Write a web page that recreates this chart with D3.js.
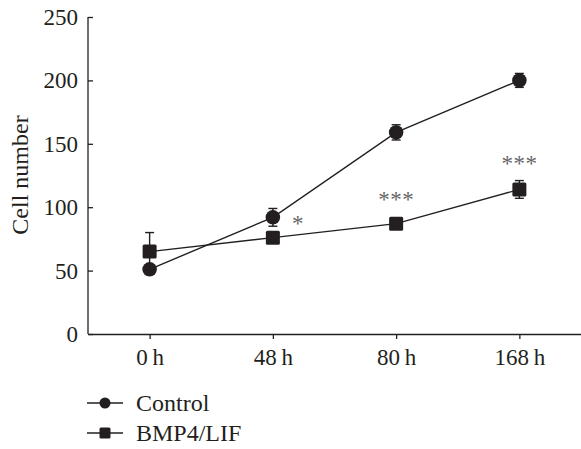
<!DOCTYPE html>
<html>
<head>
<meta charset="utf-8">
<script src="https://cdn.jsdelivr.net/npm/d3@7"></script>
<style>
  body { margin: 0; background: #fff; }
  text { font-family: "Liberation Serif", "Times New Roman", serif; fill: #231f20; }
</style>
</head>
<body>
<script>
"use strict";

// data
var categories = ["0\u2009h", "48\u2009h", "80\u2009h", "168\u2009h"];
var controlMean = [51, 92, 159, 200];
var controlErr = [3, 7, 6, 5.5];
var bmpMean = [65, 76, 87, 114];
var bmpErr = [15, 4, 3, 7];
var yTicks = [0, 50, 100, 150, 200, 250];
var sigLabels = ["", "*", "***", "***"];
var sigValues = [null, 91, 110, 138];

var width = 581, height = 449;
var ink = "#231f20";

var svg = d3.select("body").append("svg")
    .attr("width", width)
    .attr("height", height);

var x = d3.scalePoint().domain(categories).range([88, 581]).padding(0.5);
var y = d3.scaleLinear().domain([0, 250]).range([334, 17]);

// axes
var yAxis = svg.append("g")
    .attr("transform", "translate(88,0)")
    .call(d3.axisRight(y).tickValues(yTicks).tickSize(5).tickFormat(""));
yAxis.selectAll("path, line").attr("stroke", ink).attr("stroke-width", 1.3);
yAxis.select(".domain").attr("d", "M0," + y(250) + "V" + y(0));

svg.append("g").selectAll("text")
    .data(yTicks)
    .enter().append("text")
    .attr("x", 78)
    .attr("y", d => y(d))
    .attr("dy", "0.35em")
    .attr("text-anchor", "end")
    .style("font-size", "23px")
    .text(d => d);

var xAxis = svg.append("g")
    .attr("transform", "translate(0,334)")
    .call(d3.axisBottom(x).tickSize(5).tickSizeOuter(0));
xAxis.selectAll("path, line").attr("stroke", ink).attr("stroke-width", 1.3);
xAxis.selectAll("text")
    .attr("y", 0).attr("dy", 31)
    .style("font-size", "23px")
    .attr("fill", ink)
    .style("font-family", "Liberation Serif, serif");

svg.append("text")
    .attr("transform", "translate(28,175) rotate(-90)")
    .attr("text-anchor", "middle")
    .style("font-size", "24px")
    .text("Cell number");

// series
var series = [
  {name: "Control", mean: controlMean, err: controlErr, shape: "circle"},
  {name: "BMP4/LIF", mean: bmpMean, err: bmpErr, shape: "square"}
];

var line = d3.line()
    .x((d, i) => x(categories[i]))
    .y(d => y(d));

series.forEach(function(s) {
  svg.append("path")
      .attr("d", line(s.mean))
      .attr("fill", "none")
      .attr("stroke", ink)
      .attr("stroke-width", 1.4);
});

series.forEach(function(s) {
  var g = svg.append("g").attr("stroke", ink).attr("stroke-width", 1.4);
  s.mean.forEach(function(m, i) {
    var cx = x(categories[i]);
    var lo = y(m - s.err[i]), hi = y(m + s.err[i]);
    g.append("line").attr("x1", cx).attr("x2", cx).attr("y1", lo).attr("y2", hi);
    g.append("line").attr("x1", cx - 4.5).attr("x2", cx + 4.5).attr("y1", hi).attr("y2", hi);
    g.append("line").attr("x1", cx - 4.5).attr("x2", cx + 4.5).attr("y1", lo).attr("y2", lo);
  });
});

function drawMarker(g, shape, cx, cy, size) {
  if (shape === "circle") {
    g.append("circle").attr("cx", cx).attr("cy", cy).attr("r", size / 2).attr("fill", ink);
  } else {
    g.append("rect").attr("x", cx - size / 2).attr("y", cy - size / 2)
        .attr("width", size).attr("height", size).attr("rx", 1.5).attr("fill", ink);
  }
}

// BMP markers first, control on top
[series[1], series[0]].forEach(function(s) {
  var g = svg.append("g");
  s.mean.forEach(function(m, i) {
    drawMarker(g, s.shape, x(categories[i]), y(m), s.shape === "circle" ? 14.5 : 14);
  });
});

// significance
svg.append("g").selectAll("text")
    .data(sigLabels.map((l, i) => ({l: l, v: sigValues[i], c: categories[i]})).filter(d => d.l))
    .enter().append("text")
    .attr("x", d => x(d.c) + (d.l.length === 1 ? 25 : 0))
    .attr("y", d => y(d.v) + 12)
    .attr("text-anchor", "middle")
    .style("font-size", "23px")
    .style("letter-spacing", "0.5px")
    .style("fill", "#666")
    .text(d => d.l);

// legend
var legend = svg.append("g");
series.forEach(function(s, i) {
  var ly = 403 + i * 30;
  legend.append("line")
      .attr("x1", 87).attr("x2", 123).attr("y1", ly).attr("y2", ly)
      .attr("stroke", ink).attr("stroke-width", 1.4);
  drawMarker(legend, s.shape, 105, ly, 11);
  legend.append("text")
      .attr("x", 136).attr("y", ly).attr("dy", "0.35em")
      .style("font-size", "24px")
      .text(s.name);
});
</script>
</body>
</html>
